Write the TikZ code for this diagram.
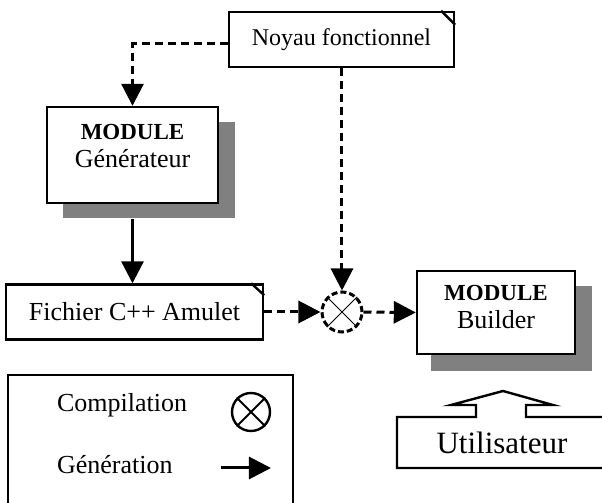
\documentclass[tikz,border=0pt]{standalone}
\usepackage{fontspec}
\setmainfont{Liberation Serif}
\usetikzlibrary{arrows.meta, calc, positioning}
\tikzset{>={Triangle[length=11pt,width=11pt]}}
\tikzset{
	boite/.style={draw, line width=1.2pt, fill=white, inner sep=0pt},
	ombre/.style={fill=black!50, draw=none},
	pointille/.style={line width=1.5pt, dash pattern=on 4pt off 2.5pt},
	fleche/.style={line width=1.5pt},
	modtexte/.style={align=center, font=\fontsize{13}{14}\selectfont},
}

\begin{document}
\begin{tikzpicture}[x=0.5pt, y=-0.5pt]
			\clip (0,0) rectangle (602,503);
			% modules et leurs ombres
			\fill[ombre] (63,122) rectangle (235,218);
			\node[boite, minimum width=85.5pt, minimum height=48pt] (gen) at (132.5,155) {};
			\node[modtexte] (gentxt) at (132.5,146) {{\fontsize{11.5}{13}\selectfont\textbf{MODULE}}\\Générateur};
			\fill[ombre] (431,286) rectangle (592,371);
			\node[boite, minimum width=79pt, minimum height=41.5pt] (builder) at (496,312.5) {};
			\node[modtexte] (buildtxt) at (496,307.5) {{\fontsize{11.5}{13}\selectfont\textbf{MODULE}}\\Builder};
			% documents
			\node[boite, minimum width=112.5pt, minimum height=27.5pt, font=\fontsize{12}{14}\selectfont] (noyau) at (341.5,39.5) {Noyau fonctionnel};
			\draw[line width=1.2pt] ([xshift=-7pt]noyau.north east) -- ([yshift=-7pt]noyau.north east);
			\node[boite, minimum width=128.5pt, minimum height=27.5pt, font=\fontsize{13}{15}\selectfont] (fichier) at (134.5,312) {Fichier C++ Amulet};
			\draw[line width=1.2pt] ([xshift=-6.5pt]fichier.north east) -- ([yshift=-6pt]fichier.north east);
			% compilation
			\node[circle, draw, line width=1.5pt, dash pattern=on 3pt off 1.5pt, minimum size=20pt, inner sep=0pt] (comp) at (342,312) {};
			\draw[thin] (comp.north west) -- (comp.south east) (comp.north east) -- (comp.south west);
			% liaisons
			\draw[pointille, ->] ([yshift=-2.2pt]noyau.west) -| (gen.north);
			\draw[pointille, ->] (noyau.south -| comp) -- (comp.north);
			\draw[fleche, ->] ([yshift=-7.5pt]gen.south) -- (fichier.north -| gen.south);
			\draw[pointille, ->] (fichier.east) -- (comp.west);
			\draw[pointille, ->] (comp.east) -- (builder.west);
			% utilisateur
			\draw[line width=1.2pt] (615,417) -- (526,417) -- (526,405) -- (553,405) -- (503,391) -- (451,405) -- (476,405) -- (476,417) -- (397,417) -- (397,468) -- (615,468);
			\node[font=\fontsize{15.5}{18}\selectfont] (util) at (502,443) {Utilisateur};
			% legende
			\draw[line width=1.2pt] (8,515) -- (8,375) -- (293,375) -- (293,515);
			\node[anchor=west, font=\fontsize{13}{15}\selectfont] (lcomp) at (50,405) {Compilation};
			\node[anchor=west, font=\fontsize{13}{15}\selectfont] (lgen) at (50,465) {Génération};
			\node[circle, draw, line width=1.2pt, minimum size=19pt, inner sep=0pt] (symcomp) at (251,412) {};
			\draw[line width=1pt] (symcomp.north west) -- (symcomp.south east) (symcomp.north east) -- (symcomp.south west);
			\coordinate (gdeb) at (221,468);
			\coordinate (gfin) at (271,468);
			\draw[fleche, ->] (gdeb) -- (gfin);
		\end{tikzpicture}
\end{document}
